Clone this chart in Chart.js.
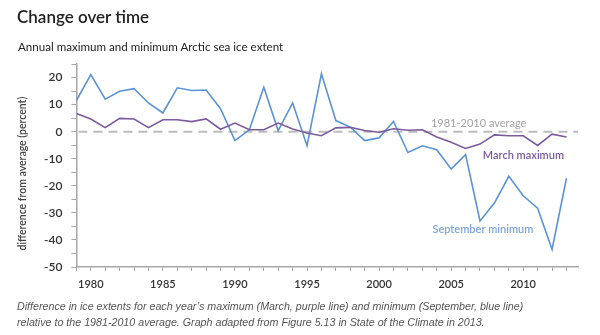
<!DOCTYPE html>
<html>
<head>
<meta charset="utf-8">
<script src="https://cdn.jsdelivr.net/npm/chart.js@4"></script>
<style>
  body { margin: 0; background: #fff; }
  #wrap { position: relative; width: 600px; height: 335px; overflow: hidden; }
  #chart { position: absolute; left: 0; top: 0; }
  .title { position: absolute; left: 17px; top: 6px; font: 600 17px Lato, "Open Sans", sans-serif; color: #222; }
  .sub { position: absolute; left: 18px; top: 40px; font: 11.6px Lato, "Open Sans", sans-serif; color: #222; }
  .caption { position: absolute; left: 17px; top: 298px; font: italic 10.7px "Liberation Sans", Arial, sans-serif; color: #555; line-height: 16px; }
</style>
</head>
<body>
<div id="wrap">
  <canvas id="chart" width="600" height="335"></canvas>
  <div class="title">Change over time</div>
  <div class="sub">Annual maximum and minimum Arctic sea ice extent</div>
  <div class="caption">Difference in ice extents for each year’s maximum (March, purple line) and minimum (September, blue line)<br>relative to the 1981-2010 average. Graph adapted from Figure 5.13 in State of the Climate in 2013.</div>
</div>
<script>
// years 1979 - 2013
const years = [1979, 1980, 1981, 1982, 1983, 1984, 1985, 1986, 1987, 1988, 1989, 1990,
  1991, 1992, 1993, 1994, 1995, 1996, 1997, 1998, 1999, 2000, 2001, 2002, 2003, 2004,
  2005, 2006, 2007, 2008, 2009, 2010, 2011, 2012, 2013];

// march maximum (percent)
const marchMax = [6.7, 4.7, 1.5, 4.9, 4.7, 1.5, 4.4, 4.4, 3.7, 4.7, 0.9, 3.2,
  0.7, 0.7, 3.2, 1.0, -0.5, -1.5, 1.4, 1.6, 0.4, -0.2, 1.1, 0.5, 0.7, -2.0,
  -3.9, -6.2, -4.6, -1.2, -1.5, -1.5, -5.1, -0.9, -2.0];

// september minimum (percent)
const septMin = [11.5, 21.1, 12.0, 14.9, 15.9, 10.6, 6.9, 16.2, 15.2, 15.4, 8.5, -3.3,
  0.7, 16.4, 0.4, 10.6, -5.2, 21.4, 4.1, 1.7, -3.3, -2.3, 3.8, -7.7, -5.2, -6.7,
  -13.8, -8.5, -33.0, -26.4, -16.5, -23.7, -28.3, -43.5, -17.2];

const xLabelStep = 5;
const yLabelStep = 10;
const yTitle = 'difference from average (percent)';

// line labels, placed at data coordinates
const labels = [
  { text: '1981-2010 average', x: 2003.6, y: 3.2, color: '#a3a3a3', font: '11px Lato, sans-serif' },
  { text: 'March maximum', x: 2007.2, y: -8.8, color: '#7b5b9b', font: '600 11px Lato, sans-serif' },
  { text: 'September minimum', x: 2003.7, y: -36.0, color: '#7ea6d8', font: '600 11px Lato, sans-serif' }
];

const toPoints = vals => vals.map((v, i) => ({ x: years[i], y: v }));

// dashed average line, text labels and y title
const extras = {
  id: 'extras',
  beforeDatasetsDraw(chart) {
    const { ctx, chartArea, scales } = chart;
    const y0 = scales.y.getPixelForValue(0);
    ctx.save();
    ctx.strokeStyle = '#bdbdbd';
    ctx.lineWidth = 2;
    ctx.setLineDash([9, 6]);
    ctx.beginPath();
    ctx.moveTo(chartArea.left + 2, y0);
    ctx.lineTo(chartArea.right, y0);
    ctx.stroke();
    ctx.restore();
  },
  afterDatasetsDraw(chart) {
    const { ctx, scales } = chart;
    ctx.save();
    ctx.textBaseline = 'middle';
    ctx.textAlign = 'left';
    labels.forEach(l => {
      ctx.font = l.font;
      ctx.fillStyle = l.color;
      ctx.fillText(l.text, scales.x.getPixelForValue(l.x), scales.y.getPixelForValue(l.y));
    });
    // y title, a bit below the middle like the original
    ctx.translate(23, scales.y.getPixelForValue(-15.5));
    ctx.rotate(-Math.PI / 2);
    ctx.textAlign = 'center';
    ctx.font = '600 10.5px Lato, sans-serif';
    ctx.fillStyle = '#444';
    ctx.fillText(yTitle, 0, 0);
    ctx.restore();
  }
};

new Chart(document.getElementById('chart'), {
  type: 'line',
  data: {
    datasets: [{
      label: 'March maximum',
      data: toPoints(marchMax),
      borderColor: '#7b5b9b',
      borderWidth: 1.6,
      pointRadius: 0,
      tension: 0
    }, {
      label: 'September minimum',
      data: toPoints(septMin),
      borderColor: '#5b93d5',
      borderWidth: 1.6,
      pointRadius: 0,
      tension: 0
    }]
  },
  options: {
    responsive: false,
    animation: false,
    layout: { padding: { top: 64, right: 22, bottom: 38, left: 0 } },
    plugins: {
      legend: { display: false },
      title: { display: false },
      tooltip: { enabled: false }
    },
    scales: {
      x: {
        type: 'linear',
        min: 1979,
        max: 2013.8,
        afterFit(scale) { scale.height = 30; },
        border: { color: '#a8a8a8', width: 1.5 },
        grid: { drawOnChartArea: false, tickLength: 4, color: '#a8a8a8' },
        ticks: {
          stepSize: 1,
          autoSkip: false,
          includeBounds: false,
          maxRotation: 0,
          padding: 7,
          color: '#333',
          font: { family: 'Lato', size: 11, weight: '600' },
          callback: v => (v % xLabelStep === 0 ? String(v) : '')
        }
      },
      y: {
        min: -50,
        max: 25,
        afterFit(scale) { scale.width = 76.4; },
        border: { color: '#a8a8a8', width: 1.5 },
        grid: { drawOnChartArea: false, tickLength: 5, color: '#a8a8a8' },
        ticks: {
          stepSize: 5,
          autoSkip: false,
          padding: 9,
          color: '#333',
          font: { family: 'Lato', size: 12, weight: '600' },
          callback: v => (v % yLabelStep === 0 ? String(v) : '')
        }
      }
    }
  },
  plugins: [extras]
});
</script>
</body>
</html>
